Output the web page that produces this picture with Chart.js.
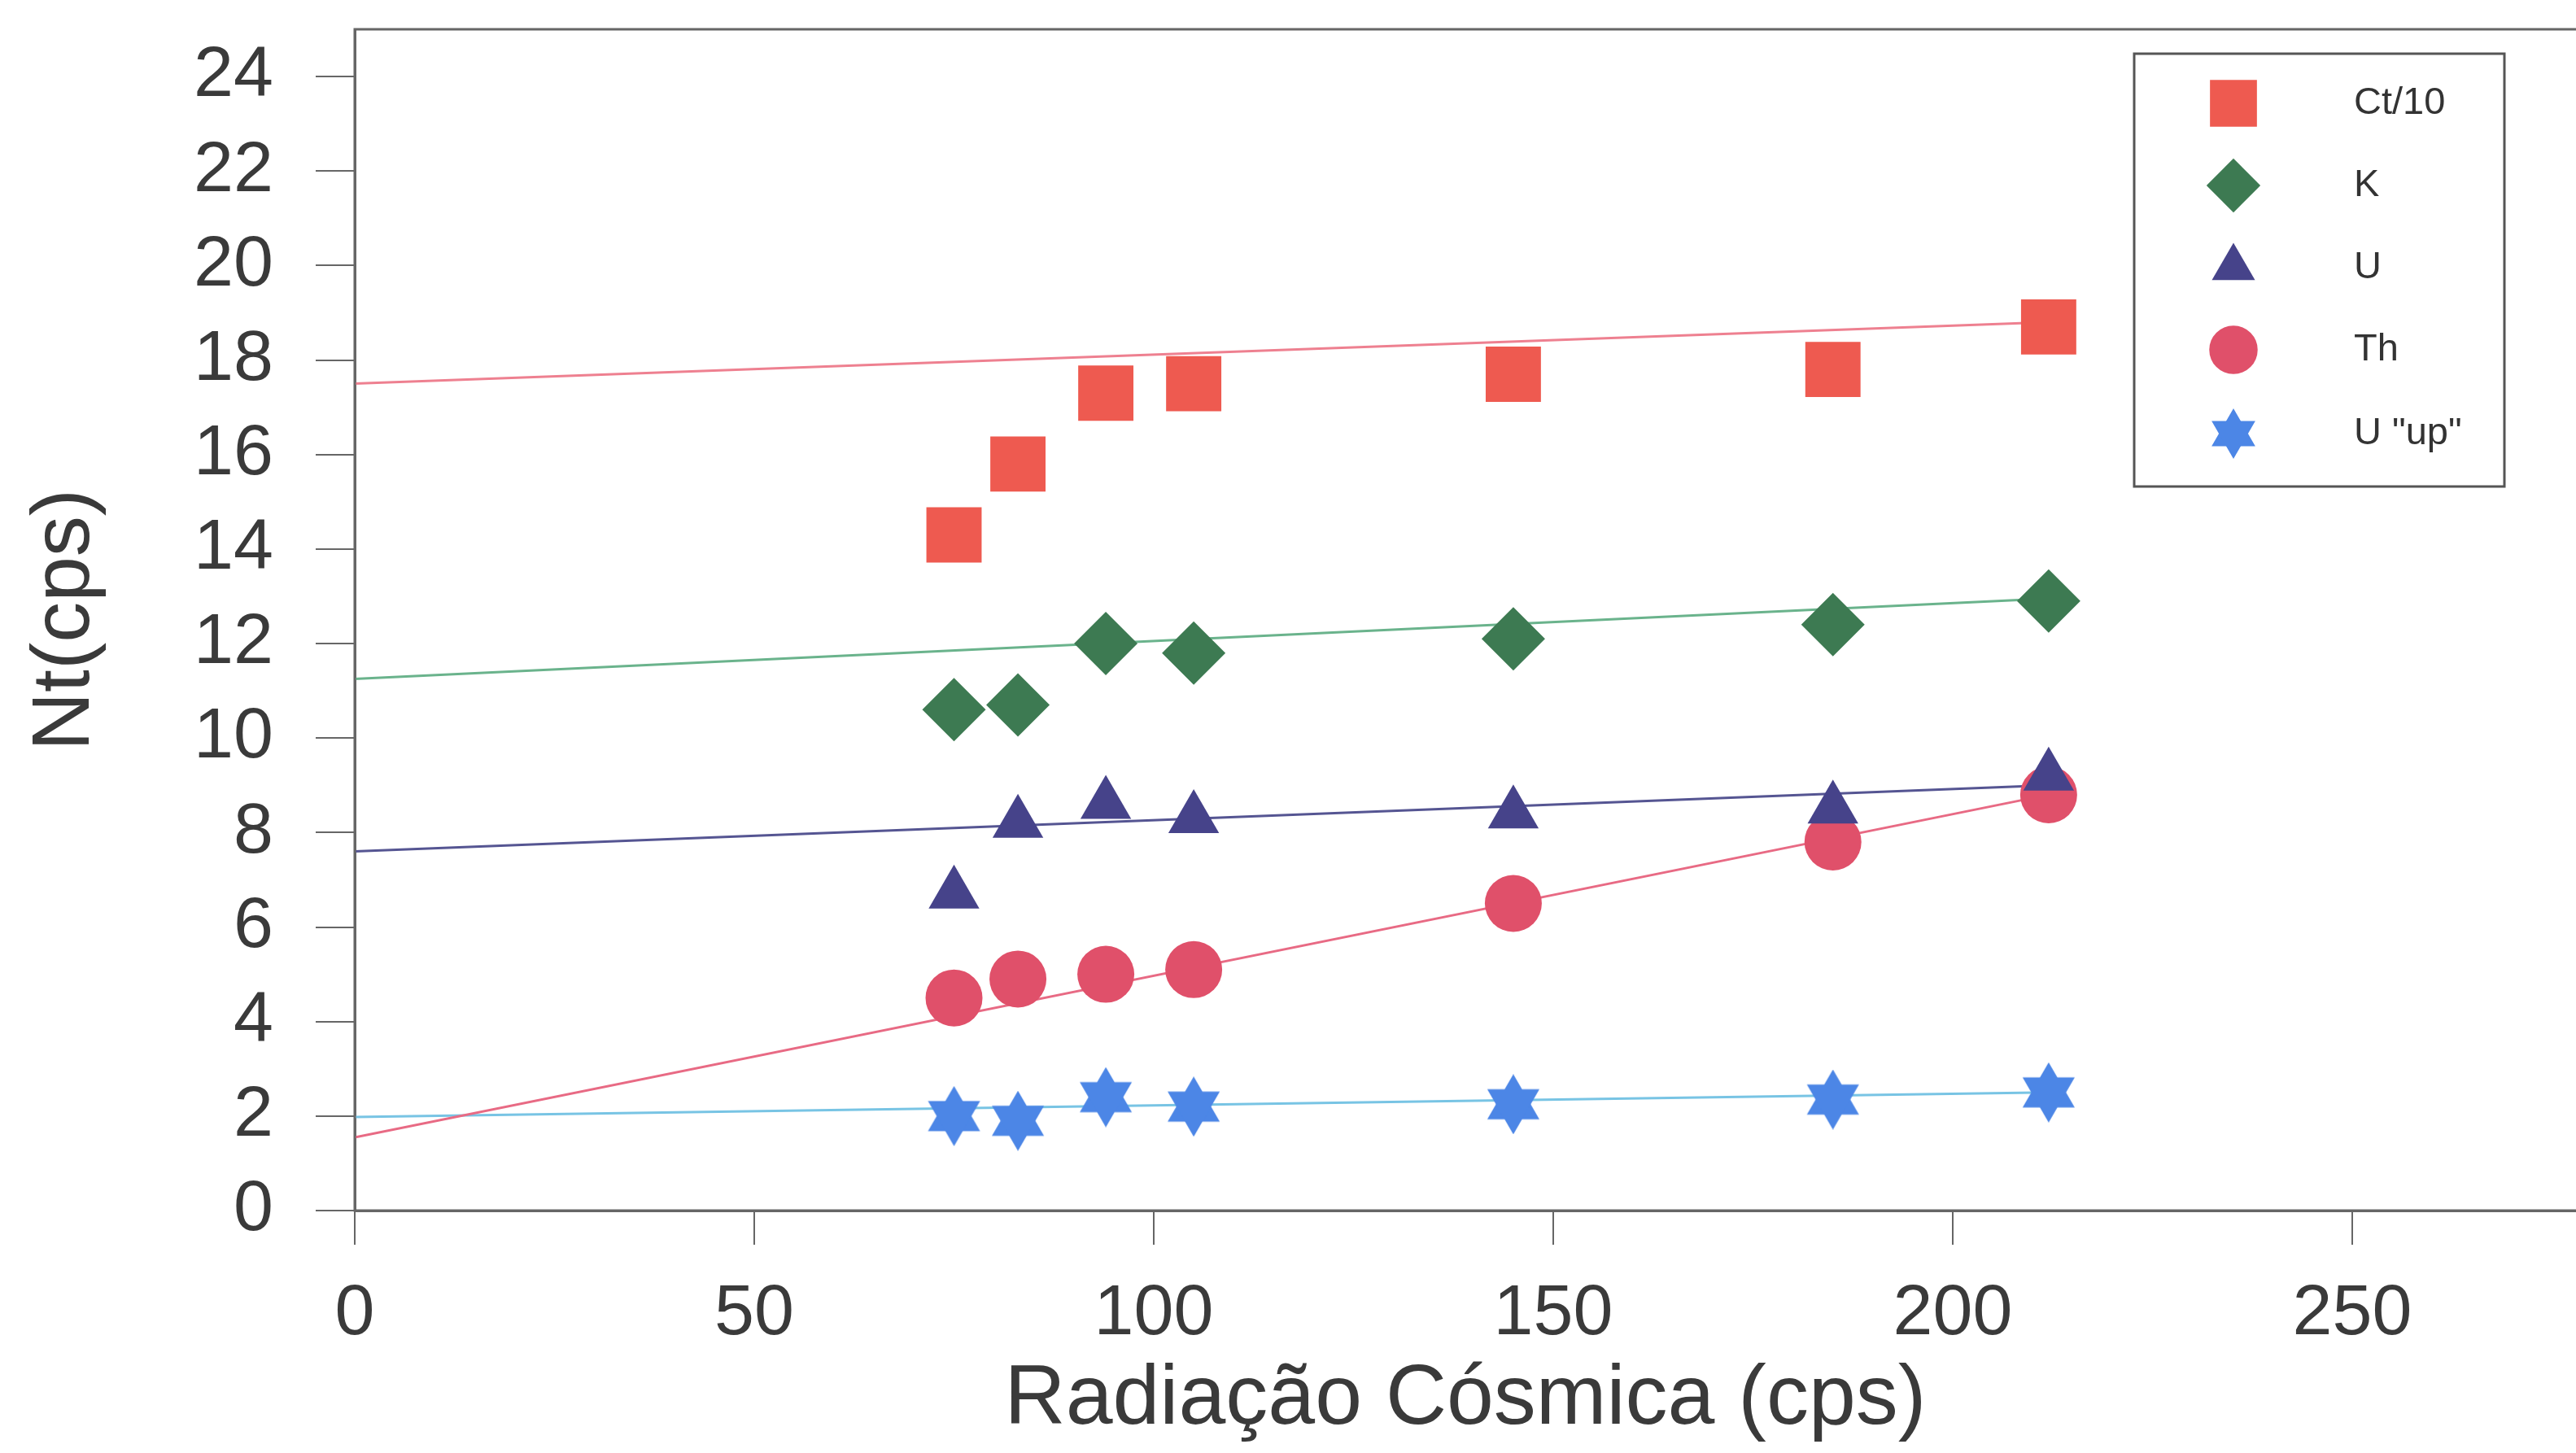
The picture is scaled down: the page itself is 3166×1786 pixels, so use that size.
<!DOCTYPE html>
<html>
<head>
<meta charset="utf-8">
<script src="https://cdn.jsdelivr.net/npm/chart.js@4.4.1/dist/chart.umd.min.js"></script>
<style>
  html, body { margin: 0; padding: 0; background: #fff; }
  #wrap { width: 3166px; height: 1786px; }
</style>
</head>
<body>
<div id="wrap"><canvas id="chart" width="3166" height="1786"></canvas></div>
<script>
// Dados
const seriesNames = ['Ct/10', 'K', 'U', 'Th', 'U "up"'];
const cosmic  = [75, 83, 94, 105, 145, 185, 212];
const ct10    = [14.3, 15.8, 17.3, 17.5, 17.7, 17.8, 18.7];
const kVals   = [10.6, 10.7, 12.0, 11.8, 12.1, 12.4, 12.9];
const uVals   = [6.7, 8.2, 8.6, 8.3, 8.4, 8.5, 9.2];
const thVals  = [4.5, 4.9, 5.0, 5.1, 6.5, 7.8, 8.8];
const uUpVals = [2.0, 1.9, 2.4, 2.2, 2.25, 2.35, 2.5];

// retas de ajuste (extremos)
const fitX    = [0, 212];
const ctFit   = [17.5, 18.8];
const kFit    = [11.25, 12.95];
const uFit    = [7.6, 9.0];
const thFit   = [1.55, 8.8];
const uUpFit  = [1.98, 2.5];

const xTicks = [0, 50, 100, 150, 200, 250];
const yTicks = [0, 2, 4, 6, 8, 10, 12, 14, 16, 18, 20, 22, 24];

const FONT = "'Liberation Sans', Arial, sans-serif";
const TXT = '#3a3a3a';
const AXIS = '#666';

// estrela de seis pontas (não existe no Chart.js)
function makeStar(size, color) {
  const c = document.createElement('canvas');
  c.width = size; c.height = size;
  const g = c.getContext('2d');
  const r = size / 2, cx = r, cy = r;
  g.fillStyle = color;
  [[-90, 30, 150], [90, 210, 330]].forEach(angles => {
    g.beginPath();
    angles.forEach((a, i) => {
      const t = a * Math.PI / 180;
      const px = cx + r * Math.cos(t), py = cy + r * Math.sin(t);
      i ? g.lineTo(px, py) : g.moveTo(px, py);
    });
    g.closePath();
    g.fill();
  });
  return c;
}

const styles = [
  { color: '#ee5a50', line: '#ee8090', pointStyle: 'rect',     radius: 48 },
  { color: '#3d7a52', line: '#6ab38c', pointStyle: 'rectRot',  radius: 39 },
  { color: '#46438a', line: '#555592', pointStyle: 'triangle', radius: 36 },
  { color: '#e0506a', line: '#e86a84', pointStyle: 'circle',   radius: 35 },
  { color: '#4c86e6', line: '#78c4e4', pointStyle: makeStar(74, '#4c86e6'), radius: 37 },
];
const legendStar = makeStar(62, '#4c86e6');

const values = [ct10, kVals, uVals, thVals, uUpVals];
const fits = [ctFit, kFit, uFit, thFit, uUpFit];

const datasets = [];
values.forEach((vals, i) => {
  const s = styles[i];
  datasets.push({
    label: seriesNames[i],
    data: cosmic.map((x, j) => ({ x, y: vals[j] })),
    showLine: false,
    pointStyle: s.pointStyle,
    pointRadius: s.radius,
    pointHoverRadius: s.radius,
    backgroundColor: s.color,
    borderColor: s.color,
    pointBorderWidth: 0,
    order: 0,
  });
});
fits.forEach((f, i) => {
  datasets.push({
    label: seriesNames[i] + ' fit',
    data: fitX.map((x, j) => ({ x, y: f[j] })),
    showLine: true,
    borderColor: styles[i].line,
    borderWidth: 3,
    pointRadius: 0,
    order: 1,
  });
});

// tira o espaço extra que o Chart.js reserva para os rótulos das pontas
function noPad(sc) {
  sc.paddingTop = 0; sc.paddingBottom = 0;
  sc.paddingLeft = 0; sc.paddingRight = 0;
}

// moldura da área do gráfico + legenda em caixa
const framePlugin = {
  id: 'frame',
  afterDraw(chart) {
    const { ctx, chartArea: a } = chart;
    ctx.save();
    ctx.strokeStyle = AXIS;
    ctx.lineWidth = 3;
    ctx.strokeRect(a.left, a.top, a.right - a.left + 4, a.bottom - a.top);

    // legenda
    const bx = 2623, by = 66, bw = 455, bh = 532;
    ctx.fillStyle = '#fff';
    ctx.fillRect(bx, by, bw, bh);
    ctx.strokeStyle = '#555';
    ctx.lineWidth = 3;
    ctx.strokeRect(bx, by, bw, bh);
    const rowsY = [127, 228, 329, 430, 533];
    seriesNames.forEach((name, i) => {
      const s = styles[i];
      ctx.fillStyle = s.color;
      ctx.strokeStyle = s.color;
      Chart.helpers.drawPoint(ctx, {
        pointStyle: i === 4 ? legendStar : s.pointStyle,
        radius: s.radius * 0.85,
        rotation: 0,
        borderWidth: 0,
      }, 2745, rowsY[i]);
      ctx.fillStyle = '#333';
      ctx.font = '47px ' + FONT;
      ctx.textBaseline = 'middle';
      ctx.textAlign = 'left';
      ctx.fillText(name, 2893, rowsY[i]);
    });
    ctx.restore();
  },
};

new Chart(document.getElementById('chart'), {
  type: 'scatter',
  data: { datasets },
  plugins: [framePlugin],
  options: {
    responsive: false,
    devicePixelRatio: 1,
    animation: false,
    layout: { autoPadding: false, padding: { top: 36, right: 0, bottom: 0, left: 0 } },
    plugins: { legend: { display: false }, tooltip: { enabled: false } },
    scales: {
      x: {
        type: 'linear',
        min: 0, max: 278,
        afterBuildTicks: sc => { sc.ticks = xTicks.map(v => ({ value: v })); },
        afterFit: sc => { sc.height = 298; noPad(sc); },
        ticks: { color: TXT, font: { family: FONT, size: 88, lineHeight: 1 }, padding: 42, maxRotation: 0 },
        grid: { drawOnChartArea: false, drawTicks: true, tickLength: 42, color: AXIS, lineWidth: 2 },
        border: { display: true, color: AXIS, width: 3 },
        title: {
          display: true, text: 'Radiação Cósmica (cps)', color: TXT,
          font: { family: FONT, size: 104, lineHeight: 1 },
          padding: { top: 0, bottom: 13 },
        },
      },
      y: {
        type: 'linear',
        min: 0, max: 25,
        afterBuildTicks: sc => { sc.ticks = yTicks.map(v => ({ value: v })); },
        afterFit: sc => { sc.width = 436; noPad(sc); },
        ticks: { color: TXT, font: { family: FONT, size: 88, lineHeight: 1 }, padding: 52 },
        grid: { drawOnChartArea: false, drawTicks: true, tickLength: 48, color: AXIS, lineWidth: 2 },
        border: { display: true, color: AXIS, width: 3 },
        title: {
          display: true, text: 'Nt(cps)', color: TXT,
          font: { family: FONT, size: 100, lineHeight: 1 },
          padding: { top: 31, bottom: 0 },
        },
      },
    },
  },
});
</script>
</body>
</html>
